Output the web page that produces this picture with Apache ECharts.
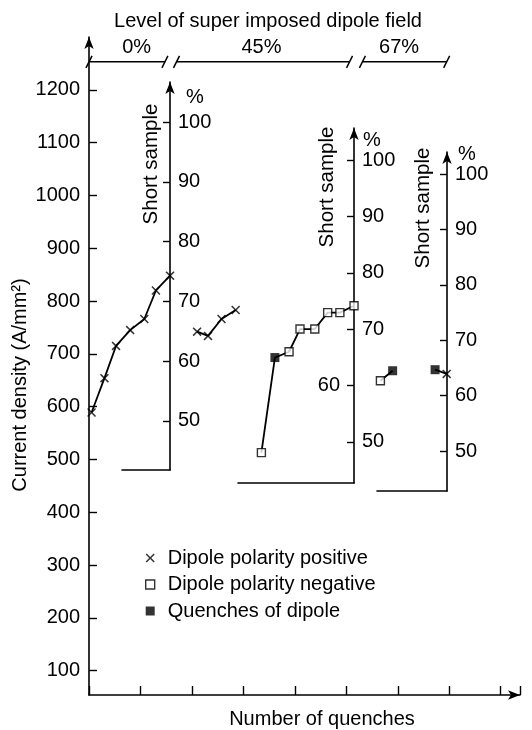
<!DOCTYPE html>
<html><head><meta charset="utf-8">
<script src="https://cdn.jsdelivr.net/npm/echarts@6/dist/echarts.min.js"></script>
<style>html,body{margin:0;padding:0;background:#fff}#c{width:532px;height:730px}</style>
</head><body><div id="c"></div>
<script>
// ---------- data (quench number, current density A/mm², marker type) ----------
// p = dipole polarity positive, n = dipole polarity negative, q = quench of dipole
const run0Quench = [0.2, 1.2, 2.1, 3.2, 4.3, 5.2, 6.3];
const run0J      = [589, 654, 715, 745, 766, 820, 848];
const run0Type   = ['p','p','p','p','p','p','p'];

const run45aQuench = [8.4, 9.25, 10.3, 11.4];
const run45aJ      = [742, 734, 766, 783];
const run45aType   = ['p','p','p','p'];

const run45bQuench = [13.4, 14.45, 15.55, 16.4, 17.55, 18.55, 19.5, 20.6];
const run45bJ      = [513, 693, 704, 747, 747, 778, 778, 791];
const run45bType   = ['n','q','n','n','n','n','n','n'];

const run67aQuench = [22.65, 23.6];
const run67aJ      = [649, 668];
const run67aType   = ['n','q'];

const run67bQuench = [26.9, 27.8];
const run67bJ      = [670, 662];
const run67bType   = ['q','p'];

// top bracket: level of superimposed dipole field
const fieldLevels      = ['0%', '45%', '67%'];
const fieldStart       = [0, 6.8, 21.25];
const fieldEnd         = [5.9, 20.25, 27.8];
const fieldLabelQuench = [3.7, 13.4, 24.1];
const bracketJ = 1253;
const fieldLabelJ = 1281;

// axis ticks
const mainTicks = [100, 200, 300, 400, 500, 600, 700, 800, 900, 1000, 1100, 1200];
const pctTicks  = [50, 60, 70, 80, 90, 100];
// labels drawn right of each short-sample axis; the 45% axis shows "60" on its left side
const pctLabelsRight = [[50, 60, 70, 80, 90, 100], [50, 70, 80, 90, 100], [50, 60, 70, 80, 90, 100]];
const pctLabelsLeft  = [[], [60], []];
const pctMin = [41.8, 42.7, 42.8];
const pctMax = [106.7, 105.7, 104.0];

const legendNames = ['Dipole polarity positive', 'Dipole polarity negative', 'Quenches of dipole'];

// ---------- build ----------
const FONT = 'Liberation Sans, Arial, Helvetica, sans-serif';
const FS = 20;
const BLACK = '#000';
const xPath = 'path://M0,1.2L1.2,0L5,3.8L8.8,0L10,1.2L6.2,5L10,8.8L8.8,10L5,6.2L1.2,10L0,8.8L3.8,5Z';

const runs = [
  [run0Quench, run0J, run0Type],
  [run45aQuench, run45aJ, run45aType],
  [run45bQuench, run45bJ, run45bType],
  [run67aQuench, run67aJ, run67aType],
  [run67bQuench, run67bJ, run67bType]
];

const pts = {p: [], n: [], q: []};
const lineSeries = runs.map(([qx, jy, tp]) => {
  qx.forEach((q, i) => pts[tp[i]].push([q, jy[i]]));
  return {
    type: 'line', xAxisIndex: 0, yAxisIndex: 0, silent: true, symbol: 'none',
    lineStyle: {color: BLACK, width: 1.8}, z: 2,
    data: qx.map((q, i) => [q, jy[i]])
  };
});

const pctGrids = [
  {left: 122, top: 82, width: 48, height: 388},
  {left: 238, top: 128, width: 116, height: 355},
  {left: 377, top: 152, width: 70, height: 339}
];

const grids = [{left: 89, top: 37, width: 431, height: 658}].concat(pctGrids);

const xAxes = [{
  gridIndex: 0, type: 'value', min: 0, max: 33.5, interval: 4,
  axisLine: {show: true, onZero: false, lineStyle: {color: BLACK, width: 1.6}, symbol: ['none', 'arrow'], symbolSize: [7, 12]},
  axisTick: {show: true, inside: true, length: 9, lineStyle: {color: BLACK, width: 1.4}},
  axisLabel: {show: false}, splitLine: {show: false}
}];
const yAxes = [{
  gridIndex: 0, type: 'value', min: 54, max: 1300,
  axisLine: {show: true, onZero: false, lineStyle: {color: BLACK, width: 1.6}, symbol: ['none', 'arrow'], symbolSize: [7, 12]},
  axisTick: {show: true, inside: true, length: 8, customValues: mainTicks, lineStyle: {color: BLACK, width: 1.4}},
  axisLabel: {show: true, customValues: mainTicks, formatter: v => String(v), fontSize: FS, color: BLACK, margin: 9, fontFamily: FONT},
  splitLine: {show: false}
}];
pctGrids.forEach((g, i) => {
  xAxes.push({
    gridIndex: i + 1, type: 'value', min: 0, max: 1,
    axisLine: {show: true, onZero: false, lineStyle: {color: BLACK, width: 1.6}},
    axisTick: {show: false}, axisLabel: {show: false}, splitLine: {show: false}
  });
  yAxes.push({
    gridIndex: i + 1, type: 'value', position: 'right', min: pctMin[i], max: pctMax[i],
    axisLine: {show: true, onZero: false, lineStyle: {color: BLACK, width: 1.6}, symbol: ['none', 'arrow'], symbolSize: [7, 12]},
    axisTick: {show: true, inside: true, length: 7, customValues: pctTicks, lineStyle: {color: BLACK, width: 1.4}},
    axisLabel: {show: true, customValues: pctLabelsRight[i], formatter: v => String(v), fontSize: FS, color: BLACK, margin: 8, fontFamily: FONT},
    splitLine: {show: false}
  });
  if (pctLabelsLeft[i].length) {
    // same scale, same axis line position, labels placed on the left side of the axis
    yAxes.push({
      gridIndex: i + 1, type: 'value', position: 'right', min: pctMin[i], max: pctMax[i],
      axisLine: {show: false, onZero: false}, axisTick: {show: false}, splitLine: {show: false},
      axisLabel: {show: true, inside: true, customValues: pctLabelsLeft[i], formatter: v => String(v),
        fontSize: FS, color: BLACK, margin: 14, fontFamily: FONT}
    });
  }
});

const markerSeries = [
  {name: legendNames[0], type: 'scatter', xAxisIndex: 0, yAxisIndex: 0, data: pts.p,
   symbol: xPath, symbolSize: 9, itemStyle: {color: BLACK}, z: 5},
  {name: legendNames[1], type: 'scatter', xAxisIndex: 0, yAxisIndex: 0, data: pts.n,
   symbol: 'rect', symbolSize: 8, itemStyle: {color: '#fff', borderColor: BLACK, borderWidth: 1.4}, z: 5},
  {name: legendNames[2], type: 'scatter', xAxisIndex: 0, yAxisIndex: 0, data: pts.q,
   symbol: 'rect', symbolSize: 9, itemStyle: {color: BLACK}, z: 5}
];

const bracketSeries = {
  type: 'custom', xAxisIndex: 0, yAxisIndex: 0, silent: true, clip: false, z: 3,
  data: fieldStart.map((s, i) => [s, fieldEnd[i], bracketJ, fieldLabelQuench[i], fieldLabelJ, i]),
  renderItem(params, api) {
    const a = api.coord([api.value(0), api.value(2)]);
    const b = api.coord([api.value(1), api.value(2)]);
    const t = api.coord([api.value(3), api.value(4)]);
    const st = {stroke: BLACK, lineWidth: 1.5};
    const slash = p => ({type: 'line', shape: {x1: p[0] - 3, y1: p[1] + 6, x2: p[0] + 3, y2: p[1] - 6}, style: st});
    return {type: 'group', children: [
      {type: 'line', shape: {x1: a[0], y1: a[1], x2: b[0], y2: b[1]}, style: st},
      slash(a), slash(b),
      {type: 'text', x: t[0], y: t[1], style: {text: fieldLevels[api.value(5)], fontSize: FS, fontFamily: FONT,
        fill: BLACK, align: 'center', verticalAlign: 'middle'}}
    ]};
  }
};

const txt = (x, y, text, size, rot) => ({
  type: 'text', x: x, y: y, rotation: rot || 0, silent: true,
  style: {text: text, fontSize: size, fontFamily: FONT, fill: BLACK, align: 'center', verticalAlign: 'middle'}
});

const option = {
  animation: false,
  backgroundColor: '#fff',
  textStyle: {fontFamily: FONT},
  grid: grids,
  xAxis: xAxes,
  yAxis: yAxes,
  legend: {
    orient: 'vertical', left: 140, top: 543, itemGap: 6.5, itemWidth: 9, itemHeight: 9,
    selectedMode: false,
    textStyle: {fontSize: FS, color: BLACK, fontFamily: FONT, padding: [0, 0, 0, 8]},
    data: [
      {name: legendNames[0], icon: xPath, itemStyle: {color: BLACK}},
      {name: legendNames[1], icon: 'rect', itemStyle: {color: '#fff', borderColor: BLACK, borderWidth: 1.4}},
      {name: legendNames[2], icon: 'rect', itemStyle: {color: BLACK}}
    ]
  },
  graphic: [
    txt(268, 21, 'Level of super imposed dipole field', FS),
    txt(20, 385, 'Current density (A/mm²)', FS, Math.PI / 2),
    txt(322, 719, 'Number of quenches', FS),
    txt(151, 164, 'Short sample', 20.5, Math.PI / 2),
    txt(327, 187, 'Short sample', 20.5, Math.PI / 2),
    txt(423, 208, 'Short sample', 20.5, Math.PI / 2),
    txt(195, 97, '%', FS),
    txt(372, 140, '%', FS),
    txt(467, 154, '%', FS)
  ],
  series: lineSeries.concat([bracketSeries], markerSeries)
};

const chart = echarts.init(document.getElementById('c'), null, {renderer: 'canvas'});
chart.setOption(option);
</script>
</body></html>
